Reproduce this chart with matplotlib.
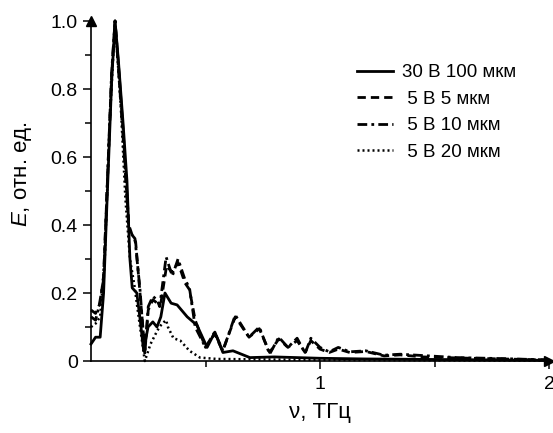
import matplotlib
matplotlib.use("Agg")
import matplotlib.pyplot as plt

plt.rcParams['font.family'] = ['Liberation Sans', 'DejaVu Sans']
plt.rcParams['mathtext.fontset'] = 'custom'
plt.rcParams['mathtext.it'] = 'Liberation Sans:italic'
plt.rcParams['mathtext.rm'] = 'Liberation Sans'

# 30 V, 100 um
nu_30_100 = [0, 0.02, 0.04, 0.055, 0.07, 0.09, 0.105, 0.12, 0.14, 0.157, 0.17, 0.18,
             0.2, 0.215, 0.23, 0.249, 0.27, 0.288, 0.305, 0.323, 0.35, 0.376, 0.42,
             0.463, 0.507, 0.541, 0.576, 0.62, 0.694, 0.8, 0.9, 1.0, 1.2, 1.4, 1.6, 1.8, 2.0]
e_30_100 = [0.05, 0.07, 0.07, 0.2, 0.47, 0.82, 1.0, 0.88, 0.7, 0.53, 0.3, 0.215,
            0.2, 0.12, 0.03, 0.1, 0.115, 0.1, 0.13, 0.2, 0.17, 0.165, 0.13,
            0.105, 0.04, 0.085, 0.025, 0.03, 0.01, 0.012, 0.01, 0.008, 0.006, 0.005, 0.004, 0.003, 0.002]

# 5 V, 5 um
nu_5_5 = [0, 0.02, 0.04, 0.055, 0.07, 0.09, 0.105, 0.12, 0.14, 0.165, 0.18, 0.195,
          0.214, 0.235, 0.25, 0.27, 0.29, 0.305, 0.33, 0.355, 0.38, 0.41, 0.43,
          0.455, 0.5, 0.54, 0.575, 0.63, 0.69, 0.735, 0.78, 0.82, 0.86, 0.9, 0.935,
          0.96, 1.0, 1.04, 1.08, 1.13, 1.2, 1.28, 1.35, 1.45, 1.6, 1.8, 2.0]
e_5_5 = [0.15, 0.14, 0.17, 0.25, 0.5, 0.84, 1.0, 0.87, 0.68, 0.4, 0.37, 0.35,
         0.2, 0.03, 0.15, 0.18, 0.17, 0.17, 0.28, 0.26, 0.29, 0.23, 0.21,
         0.12, 0.04, 0.08, 0.03, 0.13, 0.07, 0.095, 0.025, 0.065, 0.04, 0.06, 0.025,
         0.06, 0.035, 0.025, 0.035, 0.025, 0.028, 0.015, 0.018, 0.012, 0.009, 0.006, 0.003]

# 5 V, 10 um
nu_5_10 = [0, 0.02, 0.035, 0.055, 0.07, 0.09, 0.105, 0.12, 0.14, 0.165, 0.18, 0.192,
           0.214, 0.235, 0.25, 0.27, 0.288, 0.3, 0.328, 0.355, 0.38, 0.41, 0.43,
           0.455, 0.5, 0.54, 0.576, 0.63, 0.69, 0.735, 0.78, 0.82, 0.86, 0.9, 0.935,
           0.96, 1.0, 1.04, 1.08, 1.13, 1.2, 1.28, 1.35, 1.45, 1.6, 1.8, 2.0]
e_5_10 = [0.13, 0.12, 0.16, 0.24, 0.5, 0.85, 1.0, 0.86, 0.66, 0.39, 0.37, 0.36,
          0.21, 0.02, 0.16, 0.19, 0.18, 0.16, 0.306, 0.25, 0.3, 0.24, 0.215,
          0.1, 0.04, 0.085, 0.03, 0.135, 0.07, 0.1, 0.02, 0.07, 0.04, 0.067, 0.023,
          0.067, 0.04, 0.027, 0.04, 0.027, 0.03, 0.017, 0.02, 0.016, 0.01, 0.007, 0.003]

# 5 V, 20 um
nu_5_20 = [0, 0.02, 0.04, 0.06, 0.08, 0.105, 0.13, 0.15, 0.17, 0.19, 0.21, 0.235,
           0.26, 0.29, 0.31, 0.328, 0.336, 0.36, 0.39, 0.43, 0.476, 0.55, 0.7, 1.0, 1.5, 2.0]
e_5_20 = [0.1, 0.11, 0.13, 0.3, 0.68, 1.0, 0.75, 0.48, 0.3, 0.22, 0.12, 0.0,
          0.05, 0.09, 0.11, 0.12, 0.1, 0.067, 0.06, 0.03, 0.01, 0.006, 0.005, 0.003, 0.002, 0.001]

fig = plt.figure(figsize=(5.53, 4.33), dpi=100)
ax = fig.add_axes([91 / 553, 72 / 433, 458 / 553, 340 / 433])

ax.plot(nu_30_100, e_30_100, color='black', lw=2, ls='-', label='30 В 100 мкм', clip_on=False)
ax.plot(nu_5_5, e_5_5, color='black', lw=2, ls=(0, (3, 1.8)), label=' 5 В 5 мкм', clip_on=False)
ax.plot(nu_5_10, e_5_10, color='black', lw=2, ls=(0, (3.5, 1.5, 1, 1.5)), label=' 5 В 10 мкм', clip_on=False)
ax.plot(nu_5_20, e_5_20, color='black', lw=1.8, ls=(0, (0.8, 1.2)), label=' 5 В 20 мкм', clip_on=False)

ax.set_xlim(0, 2)
ax.set_ylim(0, 1.0)
ax.spines['top'].set_visible(False)
ax.spines['right'].set_visible(False)
ax.spines['left'].set_linewidth(1.2)
ax.spines['bottom'].set_linewidth(1.2)

# axis arrows
ax.plot(0, 1.0, marker='^', color='black', markersize=7, transform=ax.transAxes, clip_on=False)
ax.plot(1.0, 0, marker='>', color='black', markersize=7, transform=ax.transAxes, clip_on=False)

ax.set_yticks([0, 0.2, 0.4, 0.6, 0.8, 1.0])
ax.set_yticklabels(['0', '0.2', '0.4', '0.6', '0.8', '1.0'])
ax.set_yticks([0.1, 0.3, 0.5, 0.7, 0.9], minor=True)
ax.set_xticks([1, 2])
ax.set_xticklabels(['1', '2'])
ax.set_xticks([0.5, 1.5], minor=True)
ax.tick_params(axis='both', which='major', direction='out', length=6, width=1.1, labelsize=14)
ax.tick_params(axis='both', which='minor', direction='out', length=4, width=1.1)
ax.tick_params(axis='x', which='major', pad=5)

ax.set_xlabel('ν, ТГц', fontsize=16, labelpad=6)
ax.set_ylabel('$E$, отн. ед.', fontsize=16)
ax.yaxis.set_label_coords(-0.125, 0.55)

ax.legend(loc='upper left', bbox_to_anchor=(0.565, 0.895), frameon=False, fontsize=13.5,
          handlelength=1.9, handletextpad=0.5, labelspacing=0.5, borderaxespad=0)

fig.savefig('out.png', dpi=100)
